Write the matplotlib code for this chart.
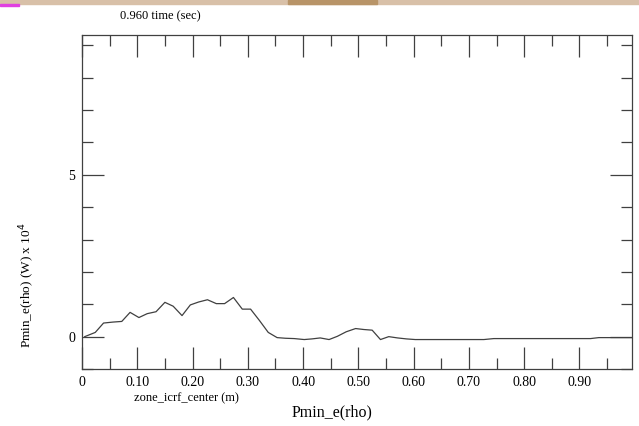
import matplotlib
matplotlib.use("Agg")
import matplotlib.pyplot as plt
from matplotlib.patches import Rectangle
from matplotlib.ticker import MultipleLocator, FixedLocator

plt.rcParams['font.family'] = ['Liberation Serif', 'DejaVu Serif']

# Pmin_e(rho) profile (units of 1e4 W) vs zone_icrf_center (m)
rho = [0.005, 0.024, 0.039, 0.056, 0.072, 0.087, 0.103, 0.118, 0.134, 0.150,
       0.165, 0.181, 0.196, 0.211, 0.227, 0.243, 0.258, 0.274, 0.290, 0.305,
       0.321, 0.337, 0.353, 0.368, 0.384, 0.402, 0.416, 0.431, 0.447, 0.462,
       0.478, 0.495, 0.510, 0.525, 0.540, 0.555, 0.571, 0.587, 0.603, 0.650,
       0.700, 0.727, 0.745, 0.800, 0.850, 0.900, 0.920, 0.935, 0.960, 0.995]
pmin = [0.00, 0.13, 0.42, 0.45, 0.47, 0.75, 0.59, 0.71, 0.77, 1.06,
        0.94, 0.65, 0.98, 1.07, 1.14, 1.02, 1.02, 1.21, 0.85, 0.85,
        0.50, 0.13, -0.03, -0.05, -0.06, -0.09, -0.07, -0.04, -0.09, 0.01,
        0.15, 0.25, 0.22, 0.20, -0.09, 0.00, -0.04, -0.07, -0.09, -0.09,
        -0.09, -0.09, -0.06, -0.06, -0.06, -0.06, -0.06, -0.03, -0.03, -0.03]

xticks = [0, 0.1, 0.2, 0.3, 0.4, 0.5, 0.6, 0.7, 0.8, 0.9]
xlabels = ['0', '0.10', '0.20', '0.30', '0.40', '0.50', '0.60', '0.70', '0.80', '0.90']
yticks = [0, 5]

fig = plt.figure(figsize=(6.39, 4.26), dpi=100)

# browser strip at the top of the screenshot
fig.patches.append(Rectangle((0, 0.99), 1, 0.01, transform=fig.transFigure,
                             color='#d8c0a8', zorder=0))
fig.patches.append(Rectangle((0.45, 0.99), 0.14, 0.01, transform=fig.transFigure,
                             color='#b89468', zorder=1))
fig.patches.append(Rectangle((0, 0.986), 0.03, 0.004, transform=fig.transFigure,
                             color='#e040e0', zorder=1))

ax = fig.add_axes([0.1283, 0.1338, 0.8607, 0.784])
ax.plot(rho, pmin, color='#404040', lw=0.9)

ax.set_xlim(0, 0.995)
ax.set_ylim(-1.0, 9.32)

ax.xaxis.set_major_locator(FixedLocator(xticks))
ax.set_xticklabels(xlabels)
ax.xaxis.set_minor_locator(MultipleLocator(0.05))
ax.yaxis.set_major_locator(FixedLocator(yticks))
ax.set_yticklabels(['0', '5'])
ax.yaxis.set_minor_locator(MultipleLocator(1))

ax.tick_params(which='both', direction='in', top=True, right=True,
               color='#404040', width=0.9, labelsize=10)
ax.tick_params(which='major', length=16)
ax.tick_params(which='minor', length=8)
ax.tick_params(axis='x', which='major', pad=5)
ax.tick_params(axis='y', which='major', pad=5)
for s in ax.spines.values():
    s.set_color('#404040')
    s.set_linewidth(0.9)

fig.text(0.188, 0.962, '0.960 time (sec)', fontsize=9, ha='left', va='center')
fig.text(0.21, 0.066, 'zone_icrf_center (m)', fontsize=9, ha='left', va='center')
fig.text(0.52, 0.033, 'Pmin_e(rho)', fontsize=11.5, ha='center', va='center')
fig.text(0.043, 0.331, r'Pmin_e(rho) (W) x 10$^4$', fontsize=9.5, rotation=90,
         ha='center', va='center')

fig.savefig('out.png', dpi=100)
